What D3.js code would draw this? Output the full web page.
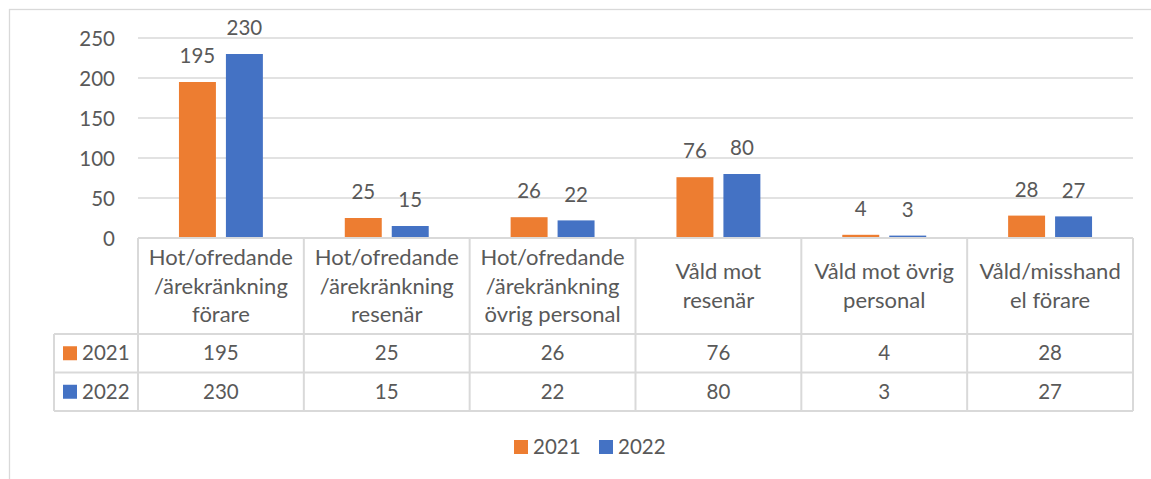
<!DOCTYPE html>
<html lang="sv">
<head>
<meta charset="utf-8" />
<script src="https://cdnjs.cloudflare.com/ajax/libs/d3/7.8.5/d3.min.js"></script>
<style>
    body { margin: 0; background: #fff; }
    svg text { font-family: Lato, "Open Sans", sans-serif; fill: #595959; }
</style>
</head>
<body>
<div id="chart"></div>
<script>
// values
var categories = [
    ["Hot/ofredande", "/ärekränkning", "förare"],
    ["Hot/ofredande", "/ärekränkning", "resenär"],
    ["Hot/ofredande", "/ärekränkning", "övrig personal"],
    ["Våld mot", "resenär"],
    ["Våld mot övrig", "personal"],
    ["Våld/misshand", "el förare"]
];
var seriesNames = ["2021", "2022"];
var values2021 = [195, 25, 26, 76, 4, 28];
var values2022 = [230, 15, 22, 80, 3, 27];
var yTicks = [0, 50, 100, 150, 200, 250];
var colors = ["#ED7D31", "#4472C4"];

var width = 1151, height = 479;
var plot = { left: 138, right: 1133, top: 38, bottom: 238 };
var rowH = 38.5, headerBottom = 334;
var fs = 20.5, fsCat = 22;

var series = [values2021, values2022];
var idx = d3.range(categories.length);

var svg = d3.select("#chart").append("svg")
    .attr("width", width).attr("height", height);

// outer chart border (cropped on the right and bottom)
svg.append("rect")
    .attr("x", 9.5).attr("y", 9.5)
    .attr("width", width + 20).attr("height", height + 20)
    .attr("fill", "none").attr("stroke", "#D9D9D9").attr("stroke-width", 1.3);

var x0 = d3.scaleBand().domain(idx).range([plot.left, plot.right]);
var x1 = d3.scaleBand().domain(d3.range(series.length))
    .range([0, x0.bandwidth()]).paddingInner(0.213).paddingOuter(0.872);
var y = d3.scaleLinear().domain([0, 250]).range([plot.bottom, plot.top]);

// gridlines
svg.append("g").selectAll("line").data(yTicks.slice(1)).join("line")
    .attr("x1", plot.left).attr("x2", plot.right)
    .attr("y1", function (d) { return y(d); }).attr("y2", function (d) { return y(d); })
    .attr("stroke", "#D9D9D9").attr("stroke-width", 1.3);

// y axis labels
var yAxis = svg.append("g")
    .attr("transform", "translate(115,0)")
    .call(d3.axisLeft(y).tickValues(yTicks).tickSize(0).tickPadding(0));
yAxis.select(".domain").remove();
yAxis.selectAll("text").attr("font-size", fs).attr("font-family", null).attr("fill", null).attr("dy", "0.35em");

// bars
series.forEach(function (vals, s) {
    var g = svg.append("g");
    g.selectAll("rect").data(idx).join("rect")
        .attr("x", function (i) { return x0(i) + x1(s); })
        .attr("width", x1.bandwidth())
        .attr("y", function (i) { return y(vals[i]); })
        .attr("height", function (i) { return y(0) - y(vals[i]); })
        .attr("fill", colors[s]);
    g.selectAll("text").data(idx).join("text")
        .attr("x", function (i) { return x0(i) + x1(s) + x1.bandwidth() / 2; })
        .attr("y", function (i) { return y(vals[i]) - 26; })
        .attr("dy", "0.35em")
        .attr("text-anchor", "middle")
        .attr("font-size", fs)
        .text(function (i) { return vals[i]; });
});

// data table
var tbl = svg.append("g").attr("stroke", "#D9D9D9").attr("stroke-width", 2);
var tableBottom = headerBottom + rowH * series.length;
// horizontal lines
tbl.append("line").attr("x1", plot.left).attr("x2", plot.right).attr("y1", plot.bottom).attr("y2", plot.bottom);
d3.range(series.length + 1).forEach(function (r) {
    tbl.append("line").attr("x1", 54).attr("x2", plot.right)
        .attr("y1", headerBottom + r * rowH).attr("y2", headerBottom + r * rowH);
});
// vertical lines
tbl.append("line").attr("x1", 54).attr("x2", 54).attr("y1", headerBottom).attr("y2", tableBottom);
idx.concat([categories.length]).forEach(function (i) {
    var xx = i < categories.length ? x0(i) : plot.right;
    tbl.append("line").attr("x1", xx).attr("x2", xx).attr("y1", plot.bottom).attr("y2", tableBottom);
});

// category header text
var lineH = 28.5;
var hdr = svg.append("g");
idx.forEach(function (i) {
    var lines = categories[i];
    var cy = (plot.bottom + headerBottom) / 2;
    var t = hdr.append("text")
        .attr("text-anchor", "middle")
        .attr("font-size", fsCat);
    lines.forEach(function (ln, k) {
        t.append("tspan")
            .attr("x", x0(i) + x0.bandwidth() / 2)
            .attr("y", cy + (k - (lines.length - 1) / 2) * lineH)
            .attr("dy", "0.35em")
            .text(ln);
    });
});

// table rows
series.forEach(function (vals, s) {
    var cy = headerBottom + rowH * s + rowH / 2;
    svg.append("rect").attr("x", 63).attr("y", cy - 7).attr("width", 14).attr("height", 14).attr("fill", colors[s]);
    svg.append("text").attr("x", 82).attr("y", cy).attr("dy", "0.35em").attr("font-size", fs).text(seriesNames[s]);
    svg.append("g").selectAll("text").data(idx).join("text")
        .attr("x", function (i) { return x0(i) + x0.bandwidth() / 2; })
        .attr("y", cy)
        .attr("dy", "0.35em")
        .attr("text-anchor", "middle")
        .attr("font-size", fs)
        .text(function (i) { return vals[i]; });
});

// legend
var legendX = [514, 599];
var lg = svg.append("g");
seriesNames.forEach(function (n, s) {
    lg.append("rect").attr("x", legendX[s]).attr("y", 440).attr("width", 14).attr("height", 14).attr("fill", colors[s]);
    lg.append("text").attr("x", legendX[s] + 19).attr("y", 447).attr("dy", "0.35em").attr("font-size", fs).text(n);
});
</script>
</body>
</html>
